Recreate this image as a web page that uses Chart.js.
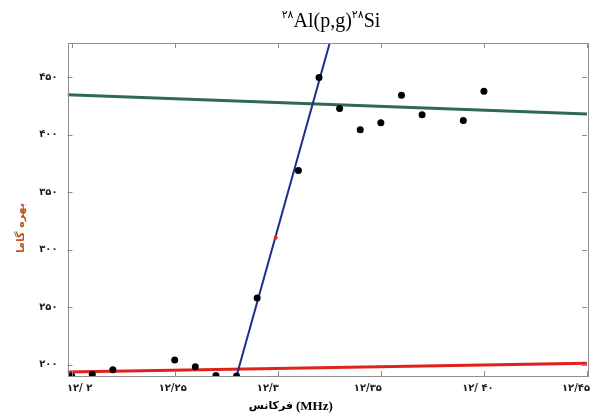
<!DOCTYPE html>
<html lang="fa">
<head>
<meta charset="utf-8">
<title>28Al(p,g)28Si</title>
<script src="https://cdn.jsdelivr.net/npm/chart.js@4.4.1/dist/chart.umd.min.js"></script>
<style>
  html, body { margin: 0; padding: 0; background: #fff; }
  #wrap { position: relative; width: 593px; height: 414px; }
</style>
</head>
<body>
<div id="wrap"><canvas id="gammaChart"></canvas></div>
<script>
// measured gamma yield vs. frequency
const frequencies = [12.2, 12.21, 12.22, 12.25, 12.26, 12.27, 12.28, 12.29, 12.31, 12.32,
                     12.33, 12.34, 12.35, 12.36, 12.37, 12.39, 12.40];
const gammaYield = [190, 191.5, 195.5, 204, 198, 190.5, 190, 258, 369, 450,
                    423, 404.5, 410.5, 434.5, 417.5, 412.5, 438];

// half-height point on the rising edge
const midFrequency = [12.299];
const midYield = [310.5];

// fitted lines (two ends each)
const baseLineX = [12.198, 12.45];
const baseLineY = [193.5, 201];
const riseLineX = [12.28, 12.3252];
const riseLineY = [190, 480];
const topLineX = [12.198, 12.45];
const topLineY = [435, 418.2];

const xTickValues = [12.2, 12.25, 12.3, 12.35, 12.4, 12.45];
const xTickLabels = ['۱۲/ ۲', '۱۲/۲۵', '۱۲/۳', '۱۲/۳۵', '۱۲/ ۴۰', '۱۲/۴۵'];
const yTickValues = [200, 250, 300, 350, 400, 450];
const yTickLabels = ['۲۰۰', '۲۵۰', '۳۰۰', '۳۵۰', '۴۰۰', '۴۵۰'];

// the x labels sit a little off their ticks, the last one kept inside the page
const xLabelShift = [8, -2, -10, -13, -6, -11];

function toPoints(xs, ys) {
    return xs.map((x, i) => ({ x: x, y: ys[i] }));
}

function fitLine(xs, ys, color, width) {
    return {
        data: toPoints(xs, ys),
        showLine: true,
        borderColor: color,
        borderWidth: width,
        pointRadius: 0,
        pointHoverRadius: 0
    };
}

// frame, inward ticks, x labels, title and axis names
const framePlugin = {
    id: 'frame',
    afterDatasetsDraw(chart) {
        const { ctx, chartArea: a, scales: { x, y } } = chart;
        ctx.save();
        ctx.strokeStyle = '#8e8e8e';
        ctx.lineWidth = 1;
        ctx.strokeRect(Math.round(a.left) + 0.5, Math.round(a.top) + 0.5,
                       Math.round(a.right - a.left), Math.round(a.bottom - a.top));
        ctx.beginPath();
        xTickValues.forEach(v => {
            const px = Math.round(x.getPixelForValue(v)) + 0.5;
            ctx.moveTo(px, a.bottom); ctx.lineTo(px, a.bottom - 5);
            ctx.moveTo(px, a.top); ctx.lineTo(px, a.top + 5);
        });
        yTickValues.forEach(v => {
            const py = Math.round(y.getPixelForValue(v)) + 0.5;
            ctx.moveTo(a.left, py); ctx.lineTo(a.left + 5, py);
            ctx.moveTo(a.right, py); ctx.lineTo(a.right - 5, py);
        });
        ctx.stroke();

        ctx.fillStyle = '#1a1a1a';
        ctx.font = 'bold 10px "DejaVu Sans"';
        ctx.textAlign = 'center';
        ctx.textBaseline = 'top';
        xTickValues.forEach((v, i) => {
            ctx.fillText(xTickLabels[i], x.getPixelForValue(v) + xLabelShift[i], a.bottom + 7);
        });
        ctx.restore();
    },
    afterDraw(chart) {
        const ctx = chart.ctx;
        ctx.save();
        ctx.fillStyle = '#000';
        ctx.textBaseline = 'alphabetic';

        // title: 28Al(p,g)28Si with raised mass numbers
        const parts = [
            { t: '۲۸', f: '11px "DejaVu Sans"', dy: -9 },
            { t: 'Al(p,g)', f: '20px "Liberation Serif"', dy: 0 },
            { t: '۲۸', f: '11px "DejaVu Sans"', dy: -9 },
            { t: 'Si', f: '20px "Liberation Serif"', dy: 0 }
        ];
        let total = 0;
        parts.forEach(p => { ctx.font = p.f; p.w = ctx.measureText(p.t).width; total += p.w; });
        let tx = 331 - total / 2;
        parts.forEach(p => {
            ctx.font = p.f;
            ctx.textAlign = 'left';
            ctx.fillText(p.t, tx, 27 + p.dy);
            tx += p.w;
        });

        // x axis name
        ctx.font = 'bold 13px "Liberation Serif"';
        ctx.textAlign = 'left';
        ctx.fillText('(MHz)', 296, 410);
        ctx.font = 'bold 11px "DejaVu Sans"';
        ctx.textAlign = 'right';
        ctx.fillText('فرکانس', 293, 409);

        // y axis name
        ctx.translate(21, 228);
        ctx.rotate(-Math.PI / 2);
        ctx.font = 'bold 11px "DejaVu Sans"';
        ctx.fillStyle = '#c2561c';
        ctx.textAlign = 'center';
        ctx.textBaseline = 'middle';
        ctx.fillText('بهره گاما', 0, 0);
        ctx.restore();
    }
};

const ctx = document.getElementById('gammaChart').getContext('2d');
const chart = new Chart(ctx, {
    type: 'scatter',
    data: {
        datasets: [
            {
                data: toPoints(frequencies, gammaYield),
                backgroundColor: '#000',
                borderWidth: 0,
                pointRadius: 3.5
            },
            {
                data: toPoints(midFrequency, midYield),
                backgroundColor: '#e8231d',
                borderWidth: 0,
                pointRadius: 2
            },
            fitLine(riseLineX, riseLineY, '#1c2f8c', 2),
            fitLine(baseLineX, baseLineY, '#e2211c', 3),
            fitLine(topLineX, topLineY, '#2f6a4e', 3)
        ]
    },
    options: {
        responsive: true,
        maintainAspectRatio: false,
        animation: false,
        layout: { padding: { top: 43, right: 6, left: 0, bottom: 0 } },
        plugins: {
            legend: { display: false },
            title: { display: false },
            tooltip: { enabled: false }
        },
        scales: {
            x: {
                type: 'linear',
                min: 12.198,
                max: 12.45,
                grid: { display: false, drawTicks: false },
                border: { display: false },
                ticks: { display: false },
                afterFit: s => {
                    s.height = 38;
                    s.paddingLeft = 0;
                    s.paddingRight = 0;
                }
            },
            y: {
                min: 190,
                max: 480,
                grid: { display: false, drawTicks: false },
                border: { display: false },
                afterBuildTicks: s => { s.ticks = yTickValues.map(v => ({ value: v })); },
                afterFit: s => { s.width = 67.5; },
                ticks: {
                    autoSkip: false,
                    padding: 10,
                    color: '#1a1a1a',
                    font: { family: 'DejaVu Sans', size: 10, weight: 'bold' },
                    callback: (value, index) => yTickLabels[index]
                }
            }
        }
    },
    plugins: [framePlugin]
});
</script>
</body>
</html>
